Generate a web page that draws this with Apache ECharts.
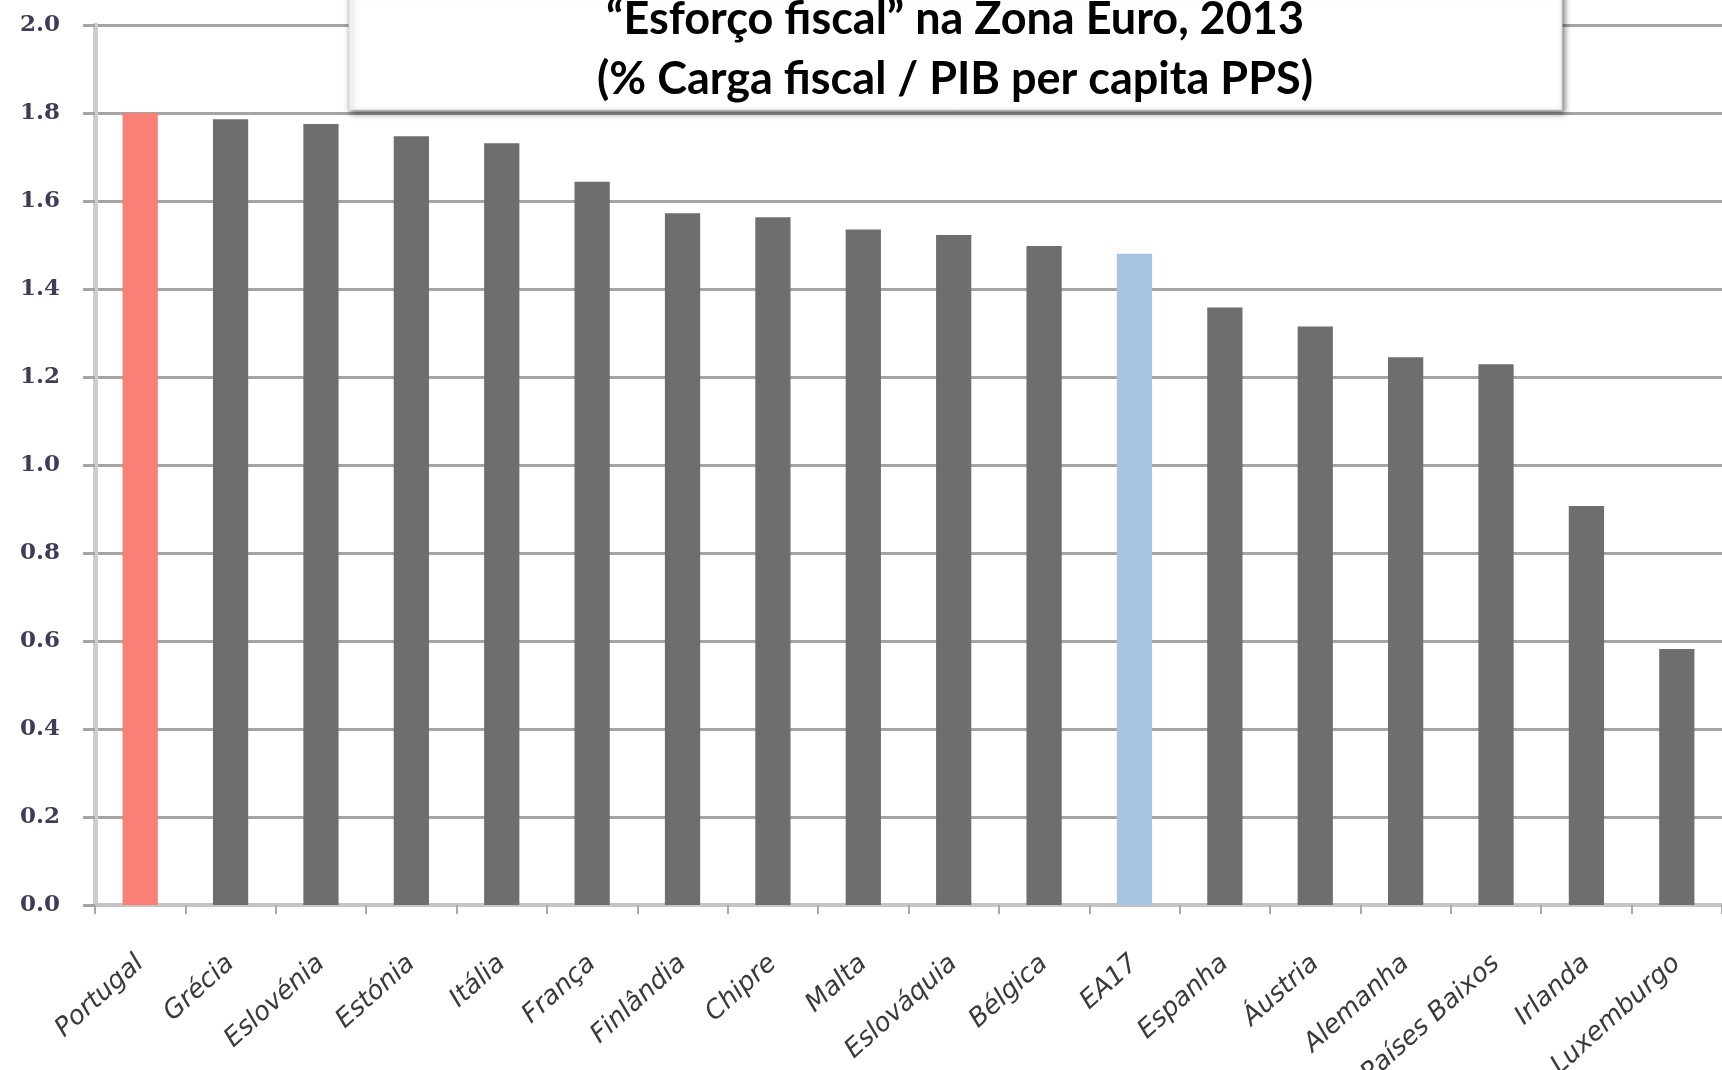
<!DOCTYPE html>
<html>
<head>
<meta charset="utf-8">
<script src="https://cdn.jsdelivr.net/npm/echarts@6/dist/echarts.min.js"></script>
<style>
  html, body { margin: 0; padding: 0; background: #ffffff; }
  #chart { width: 1722px; height: 1070px; }
</style>
</head>
<body>
<div id="chart"></div>
<script>
// Tax burden relative to GDP per capita (PPS), euro area 2013
const countries = [
  'Portugal', 'Grécia', 'Eslovénia', 'Estónia', 'Itália', 'França',
  'Finlândia', 'Chipre', 'Malta', 'Eslováquia', 'Bélgica', 'EA17',
  'Espanha', 'Áustria', 'Alemanha', 'Países Baixos', 'Irlanda', 'Luxemburgo'
];
const esforco = [
  1.80, 1.786, 1.775, 1.747, 1.731, 1.644,
  1.572, 1.563, 1.535, 1.523, 1.498, 1.480,
  1.358, 1.315, 1.245, 1.229, 0.907, 0.582
];
const yTicks = ['0.0', '0.2', '0.4', '0.6', '0.8', '1.0', '1.2', '1.4', '1.6', '1.8', '2.0'];
const titleLines = ['“Esforço fiscal” na Zona Euro, 2013', '(% Carga fiscal / PIB per capita PPS)'];

const barGrey = '#6e6e6e';
const highlight = { 'Portugal': '#f97f77', 'EA17': '#a6c4e1' };

const chart = echarts.init(document.getElementById('chart'), null, { renderer: 'canvas' });

chart.setOption({
  backgroundColor: '#ffffff',
  animation: false,
  grid: { left: 95, right: 0, top: 25, bottom: 165, containLabel: false, outerBoundsMode: 'none' },
  xAxis: {
    type: 'category',
    data: countries,
    boundaryGap: true,
    axisLine: { show: true, lineStyle: { color: '#c4c4c4', width: 4 } },
    axisTick: { show: true, alignWithLabel: false, length: 9, lineStyle: { color: '#a8a8a8', width: 2 } },
    axisLabel: {
      rotate: 42,
      margin: 55,
      interval: 0,
      color: '#3a3a3a',
      fontFamily: 'DejaVu Sans',
      fontStyle: 'italic',
      fontSize: 26
    },
    splitLine: { show: false }
  },
  yAxis: {
    type: 'value',
    min: 0,
    max: 2.0,
    interval: 0.2,
    axisLine: { show: true, lineStyle: { color: '#cdcdcd', width: 5 } },
    axisTick: { show: true, length: 12, lineStyle: { color: '#a4a4a4', width: 3 } },
    axisLabel: {
      margin: 35,
      color: '#3d3d5a',
      fontFamily: 'DejaVu Serif',
      fontWeight: 'bold',
      fontSize: 23,
      formatter: function (v) { return yTicks[Math.round(v / 0.2)]; }
    },
    splitLine: { show: true, lineStyle: { color: '#a4a4a4', width: 3 } }
  },
  series: [{
    type: 'bar',
    data: countries.map(function (c, i) {
      return { value: esforco[i], itemStyle: { color: highlight[c] || barGrey } };
    }),
    barWidth: '39%',
    itemStyle: { color: barGrey }
  }],
  graphic: [
    {
      type: 'rect',
      z: 100,
      shape: { x: 349, y: -10, width: 1213, height: 120 },
      style: {
        fill: '#ffffff',
        stroke: '#d8d8d8',
        lineWidth: 1,
        shadowBlur: 6,
        shadowColor: 'rgba(0,0,0,0.55)',
        shadowOffsetX: 2,
        shadowOffsetY: 3
      }
    },
    {
      type: 'text',
      z: 101,
      x: 955,
      y: 19,
      style: {
        text: titleLines[0],
        textAlign: 'center',
        textVerticalAlign: 'middle',
        fill: '#000000',
        font: 'bold 45px Lato'
      }
    },
    {
      type: 'text',
      z: 101,
      x: 955,
      y: 79,
      style: {
        text: titleLines[1],
        textAlign: 'center',
        textVerticalAlign: 'middle',
        fill: '#000000',
        font: 'bold 45px Lato'
      }
    }
  ]
});
</script>
</body>
</html>
